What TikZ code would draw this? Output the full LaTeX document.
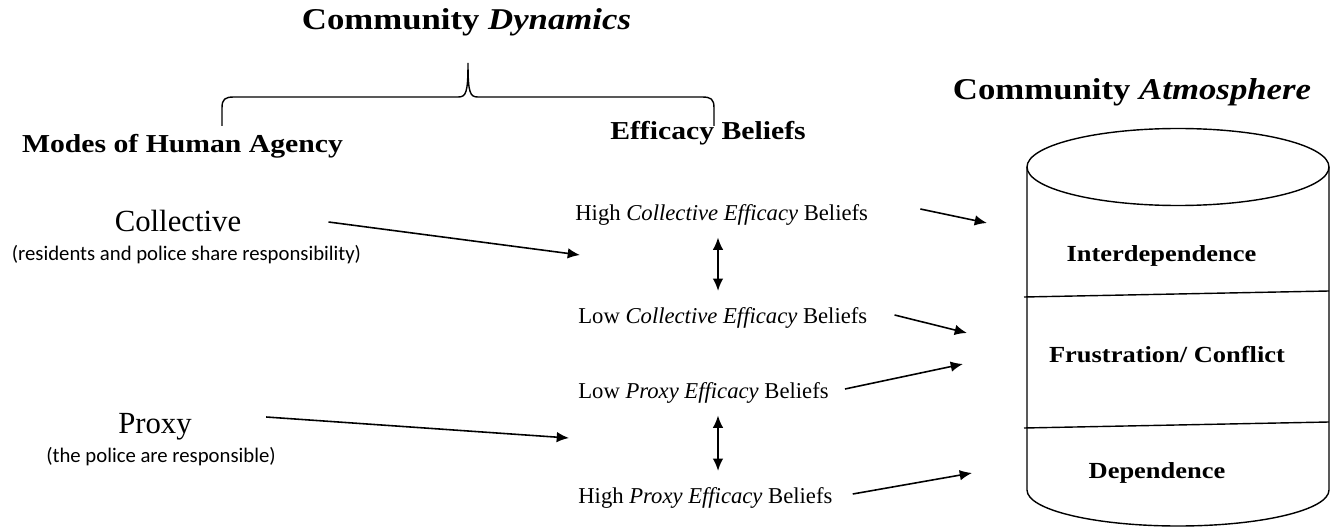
\documentclass[tikz,border=0pt]{standalone}
\usepackage{fontspec}
\setmainfont{Liberation Serif}
\setsansfont{Carlito}
\newfontfamily\headfont[FakeStretch=1.15]{Liberation Serif}
\usetikzlibrary{arrows.meta}

\begin{document}
\begin{tikzpicture}[x=0.02cm, y=-0.02cm,
        head/.style={inner sep=0pt, anchor=base, font=\headfont\bfseries\fontsize{17.2}{20}\selectfont},
        sub/.style={inner sep=0pt, anchor=base, font=\headfont\bfseries\fontsize{14.7}{17}\selectfont},
        mode/.style={inner sep=0pt, anchor=base, font=\fontsize{17.5}{20}\selectfont},
        note/.style={inner sep=0pt, anchor=base, font=\sffamily\fontsize{11.8}{14}\selectfont},
        belief/.style={inner sep=0pt, anchor=base west, font=\fontsize{12.9}{15}\selectfont},
        layer/.style={inner sep=0pt, anchor=base, font=\headfont\bfseries\fontsize{13.1}{15}\selectfont},
        arr/.style={-{Latex[length=7pt,width=6pt]}, line width=0.9pt},
        dbl/.style={{Latex[length=7pt,width=6pt]}-{Latex[length=7pt,width=6pt]}, line width=0.9pt, shorten <=7pt, shorten >=9pt}]
        \useasboundingbox (0,0) rectangle (1330,527);

        \node[head] (dyn) at (466.5,29.5) {Community \textit{Dynamics}};
        \node[head] (atm) at (1132,100) {Community \textit{Atmosphere}};
        \node[sub] (modes) at (182.5,153) {Modes of Human Agency};
        \node[sub] (eff) at (708,140) {Efficacy Beliefs};

        \draw[line width=0.8pt] (222,126) -- (222,108) .. controls (222,99) and (225,97) .. (234,97) -- (458,97)
                .. controls (466,97) and (468,93) .. (468,63) .. controls (468,93) and (470,97) .. (478,97)
                -- (702,97) .. controls (711,97) and (714,99) .. (714,108) -- (714,126);

        \node[mode] (col) at (178,232) {Collective};
        \node[note] (colnote) at (186.5,260) {(residents and police share responsibility)};
        \node[mode] (prox) at (155,433) {Proxy};
        \node[note] (proxnote) at (161,462) {(the police are responsible)};

        \node[belief] (hce) at (575,220) {High \textit{Collective Efficacy} Beliefs};
        \node[belief] (lce) at (578,323) {Low \textit{Collective Efficacy} Beliefs};
        \node[belief] (lpe) at (578,398) {Low \textit{Proxy Efficacy} Beliefs};
        \node[belief] (hpe) at (578,503) {High \textit{Proxy Efficacy} Beliefs};

        % cylinder
        \draw[line width=0.8pt] (1178,167) ellipse [x radius=151, y radius=38.5];
        \draw[line width=0.8pt] (1027,167) -- (1027,490) arc [start angle=180, end angle=0, x radius=151, y radius=36] -- (1329,167);
        \draw[line width=0.8pt] (1024,297) -- (1329,291);
        \draw[line width=0.8pt] (1024,428) -- (1329,422);
        \node[layer] (inter) at (1161.5,261) {Interdependence};
        \node[layer] (frus) at (1167,362) {Frustration/ Conflict};
        \node[layer] (dep) at (1157,478) {Dependence};

        \coordinate (colend) at (580,255);
        \coordinate (proxend) at (569,438);
        \coordinate (inhigh) at (987,223);
        \coordinate (inmidA) at (967,333);
        \coordinate (inmidB) at (963,364);
        \coordinate (inlow) at (972,473);
        \coordinate (axis) at (718,0);

        \draw[arr] ([shift={(87,-10)}]col.base east) -- (colend);
        \draw[arr] ([shift={(74,-16)}]prox.base east) -- (proxend);
        \draw[arr] ([shift={(52,-11)}]hce.base east) -- (inhigh);
        \draw[arr] ([shift={(27,-8)}]lce.base east) -- (inmidA);
        \draw[arr] ([shift={(16,-9)}]lpe.base east) -- (inmidB);
        \draw[arr] ([shift={(20,-9)}]hpe.base east) -- (inlow);
        \draw[dbl] (hce.south -| axis) -- (lce.north -| axis);
        \draw[dbl] (lpe.south -| axis) -- (hpe.north -| axis);
\end{tikzpicture}
\end{document}
